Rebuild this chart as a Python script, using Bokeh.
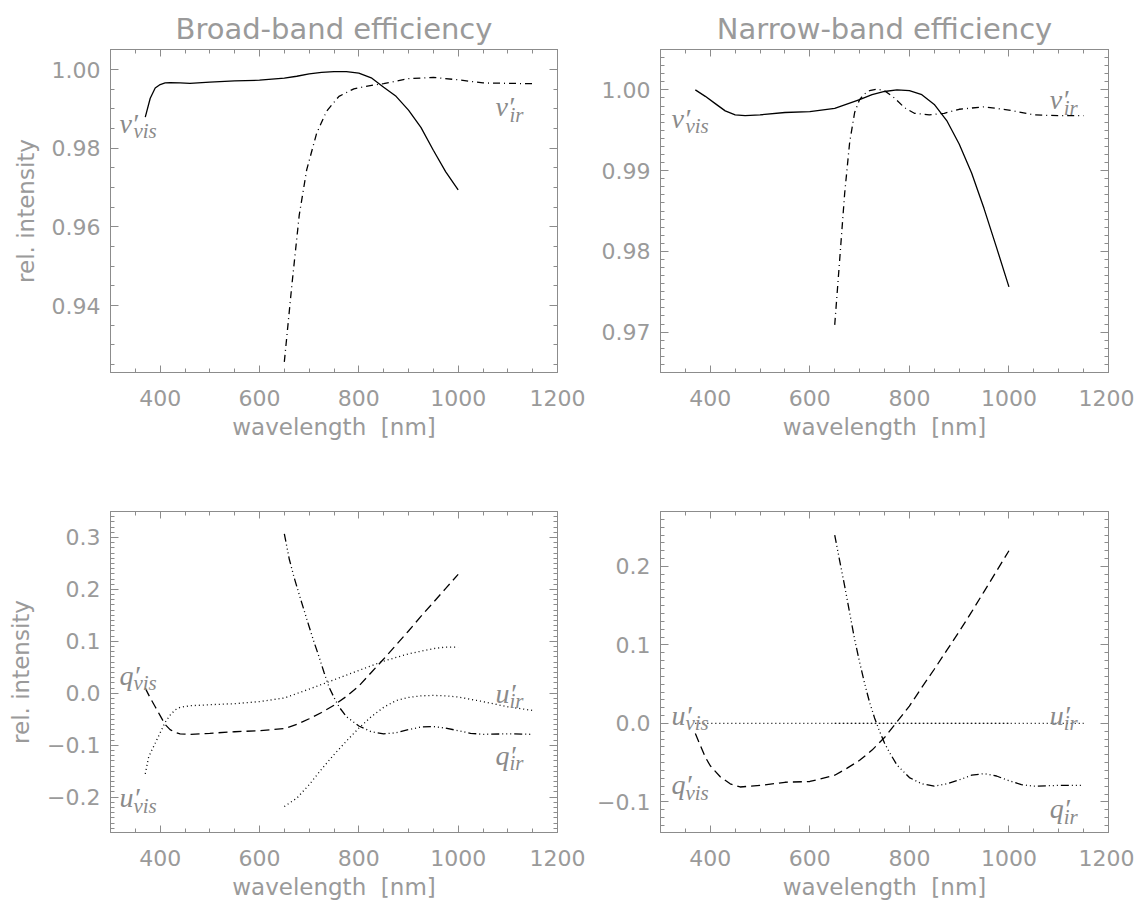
from bokeh.plotting import figure
from bokeh.layouts import column, row
from bokeh.models import Range1d, LinearAxis, SingleIntervalTicker, CustomJSTickFormatter, Label
from bokeh.embed import file_html
from bokeh.resources import INLINE

# ---------------- data ----------------
# Broad-band, top panel
bb_vvis_wl = [370, 380, 390, 400, 410, 420, 440, 460, 500, 550, 600, 650, 675, 700, 725, 750, 775, 800, 825,
              850, 875, 900, 925, 950, 975, 1000]
bb_vvis = [0.9879, 0.9927, 0.9953, 0.9962, 0.9966, 0.9967, 0.9966, 0.9965, 0.9968, 0.9971, 0.9973, 0.9978,
           0.9983, 0.9989, 0.9993, 0.9995, 0.9995, 0.9991, 0.9979, 0.9955, 0.9932, 0.9897, 0.9853, 0.9795,
           0.9740, 0.9694]
bb_vir_wl = [650, 665, 680, 695, 715, 735, 760, 790, 830, 850, 900, 950, 1000, 1050, 1100, 1150]
bb_vir = [0.9257, 0.9450, 0.9630, 0.9745, 0.9838, 0.9894, 0.9932, 0.9951, 0.9961, 0.9964, 0.9977, 0.9980,
          0.9974, 0.9966, 0.9965, 0.9964]

# Narrow-band, top panel
nb_vvis_wl = [370, 390, 410, 430, 450, 470, 500, 550, 600, 650, 700, 725, 750, 775, 800, 825, 850, 875, 900,
              925, 950, 975, 1000]
nb_vvis = [1.0000, 0.9992, 0.9983, 0.9974, 0.9969, 0.9968, 0.9969, 0.9972, 0.9973, 0.9977, 0.9988, 0.9994,
           0.9998, 1.0000, 0.9999, 0.9994, 0.9982, 0.9962, 0.9933, 0.9897, 0.9853, 0.9805, 0.9756]
nb_vir_wl = [650, 660, 670, 680, 690, 700, 710, 720, 735, 750, 770, 790, 810, 840, 870, 900, 950, 1000, 1050,
             1100, 1150]
nb_vir = [0.9709, 0.9790, 0.9872, 0.9935, 0.9972, 0.9988, 0.9995, 0.9999, 1.0001, 0.9999, 0.9990, 0.9978,
          0.9971, 0.9969, 0.9971, 0.9976, 0.9979, 0.9975, 0.9969, 0.9968, 0.9968]

# Broad-band, bottom panel
bb_qvis_wl = [370, 380, 390, 400, 410, 420, 430, 440, 460, 500, 550, 600, 650, 675, 700, 725, 750, 775, 800,
              825, 850, 875, 900, 925, 950, 975, 1000]
bb_qvis = [0.010, -0.009, -0.026, -0.043, -0.060, -0.070, -0.075, -0.078, -0.079, -0.077, -0.074, -0.072,
           -0.068, -0.060, -0.049, -0.037, -0.023, -0.006, 0.014, 0.040, 0.066, 0.093, 0.120, 0.148, 0.175,
           0.202, 0.229]
bb_uvis_wl = [370, 377, 390, 400, 410, 420, 430, 440, 460, 500, 550, 600, 650, 700, 725, 750, 800, 850, 900,
              950, 975, 1000]
bb_uvis = [-0.155, -0.122, -0.096, -0.076, -0.056, -0.042, -0.032, -0.027, -0.024, -0.022, -0.020, -0.016,
           -0.009, 0.008, 0.017, 0.026, 0.044, 0.062, 0.076, 0.086, 0.089, 0.089]
bb_uir_wl = [650, 675, 700, 725, 750, 775, 800, 825, 850, 875, 900, 925, 950, 975, 1000, 1050, 1100, 1150]
bb_uir = [-0.218, -0.202, -0.176, -0.146, -0.118, -0.092, -0.067, -0.045, -0.027, -0.014, -0.008, -0.005,
          -0.004, -0.005, -0.007, -0.016, -0.026, -0.033]
bb_qir_wl = [650, 660, 670, 680, 690, 700, 710, 720, 730, 740, 750, 760, 775, 800, 825, 850, 875, 900, 925,
             950, 975, 1000, 1025, 1050, 1100, 1150]
bb_qir = [0.307, 0.258, 0.222, 0.190, 0.159, 0.128, 0.098, 0.070, 0.040, 0.012, -0.008, -0.026, -0.045,
          -0.063, -0.074, -0.078, -0.076, -0.070, -0.065, -0.064, -0.067, -0.072, -0.077, -0.079, -0.078,
          -0.079]

# Narrow-band, bottom panel
nb_qvis_wl = [370, 380, 390, 400, 420, 440, 460, 480, 500, 550, 600, 650, 675, 700, 725, 750, 775, 800, 825,
              850, 875, 900, 925, 950, 975, 1000]
nb_qvis = [-0.013, -0.028, -0.043, -0.054, -0.068, -0.077, -0.081, -0.080, -0.079, -0.075, -0.074, -0.066,
           -0.057, -0.047, -0.034, -0.018, 0.002, 0.022, 0.046, 0.069, 0.093, 0.117, 0.142, 0.168, 0.194,
           0.220]
nb_uvis_wl = [370, 500, 650, 800, 1000]
nb_uvis = [0.0, 0.0, 0.0, 0.0, 0.0]
nb_uir_wl = [650, 800, 1000, 1150]
nb_uir = [0.0, 0.0, 0.0, 0.0]
nb_qir_wl = [650, 660, 670, 680, 690, 700, 710, 720, 730, 740, 750, 760, 775, 800, 825, 850, 875, 900, 925,
             950, 975, 1000, 1025, 1050, 1100, 1150]
nb_qir = [0.240, 0.207, 0.175, 0.141, 0.107, 0.078, 0.051, 0.027, 0.007, -0.010, -0.025, -0.037, -0.053,
          -0.069, -0.077, -0.080, -0.077, -0.072, -0.066, -0.064, -0.067, -0.073, -0.078, -0.080, -0.079,
          -0.079]

titles = ["Broad-band efficiency", "Narrow-band efficiency"]
x_label = "wavelength \u00a0[nm]"
y_label = "rel. intensity"

# ---------------- styles ----------------
AX = "#8c8c8c"
TXT = "#9a9a9a"
SYM = "#8a8a8a"
FONT = "DejaVu Sans"
SERIF = "Liberation Serif"
LW = 1.3


def num_fmt(dec):
    return CustomJSTickFormatter(args=dict(d=dec), code="""
        const v = Math.abs(tick) < 1e-9 ? 0 : tick;
        const s = Math.abs(v).toFixed(d);
        return (v < 0 ? '\u2212' : '') + s;
    """)


def axis(loc, ticker, formatter, label=None, tin=8, mtin=4, labels=True):
    a = LinearAxis(ticker=ticker, formatter=formatter if labels else CustomJSTickFormatter(code="return ''"))
    a.axis_line_color = AX
    a.major_tick_line_color = AX
    a.minor_tick_line_color = AX
    a.major_tick_in = tin
    a.major_tick_out = 0
    a.minor_tick_in = mtin
    a.minor_tick_out = 0
    if labels:
        a.major_label_text_font = FONT
        a.major_label_text_font_size = "22px"
        a.major_label_text_color = TXT
        a.major_label_standoff = 10 if loc == "left" else 17
    else:
        a.major_label_text_font_size = "1px"
        a.major_label_standoff = 0
    if label:
        a.axis_label = label
        a.axis_label_text_font = FONT
        a.axis_label_text_font_size = "23px"
        a.axis_label_text_font_style = "normal"
        a.axis_label_text_color = TXT
        a.axis_label_standoff = 10 if loc == "left" else 5
    return a


def make_fig(width, height, bl, br, bt, bb, yr, yint, yminor, ydec, title=None, ylab=None):
    p = figure(width=width, height=height, output_backend="svg", toolbar_location=None,
               x_range=Range1d(300, 1200), y_range=Range1d(*yr),
               x_axis_type=None, y_axis_type=None,
               min_border_left=bl, min_border_right=br, min_border_top=bt, min_border_bottom=bb,
               background_fill_color="white", border_fill_color="white")
    p.outline_line_color = AX
    xt = SingleIntervalTicker(interval=200, num_minor_ticks=4)
    yt = SingleIntervalTicker(interval=yint, num_minor_ticks=yminor)
    xf = CustomJSTickFormatter(code="return tick.toFixed(0);")
    p.add_layout(axis("below", xt, xf, label=x_label, tin=7, mtin=4), "below")
    p.add_layout(axis("left", yt, num_fmt(ydec), label=ylab), "left")
    p.add_layout(axis("above", xt, xf, tin=7, mtin=4, labels=False), "above")
    p.add_layout(axis("right", yt, num_fmt(ydec), labels=False), "right")
    if title:
        p.title.text = title
        p.title.align = "center"
        p.title.text_font = FONT
        p.title.text_font_size = "29px"
        p.title.text_font_style = "normal"
        p.title.text_color = TXT
        p.title.standoff = 8
    return p


def sym(p, x, y, main, sub):
    p.add_layout(Label(x=x, y=y, text=main, text_font=SERIF, text_font_size="28px",
                       text_font_style="italic", text_color=SYM, text_baseline="alphabetic"))
    p.add_layout(Label(x=x, y=y, x_offset=14, y_offset=-8, text=sub, text_font=SERIF,
                       text_font_size="21px", text_font_style="italic", text_color=SYM,
                       text_baseline="alphabetic"))


# ---------------- panels ----------------
p1 = make_fig(588, 458, 110, 31, 49, 86, (0.923, 1.0051), 0.02, 4, 2, title=titles[0], ylab=y_label)
p1.line(bb_vvis_wl, bb_vvis, line_color="black", line_width=LW)
p1.line(bb_vir_wl, bb_vir, line_color="black", line_width=LW, line_dash="7 4 1 4")
sym(p1, 318, 0.9863, "v\u2032", "vis")
sym(p1, 1075, 0.9905, "v\u2032", "ir")

p2 = make_fig(546, 458, 72, 26, 49, 86, (0.9650, 1.0050), 0.01, 10, 2, title=titles[1])
p2.line(nb_vvis_wl, nb_vvis, line_color="black", line_width=LW)
p2.line(nb_vir_wl, nb_vir, line_color="black", line_width=LW, line_dash="7 4 1 4")
sym(p2, 322, 0.9965, "v\u2032", "vis")
sym(p2, 1082, 0.99876, "v\u2032", "ir")

p3 = make_fig(588, 444, 110, 31, 53, 68, (-0.268, 0.350), 0.1, 10, 1, ylab=y_label)
p3.line(bb_qvis_wl, bb_qvis, line_color="black", line_width=LW, line_dash="9 5")
p3.line(bb_uvis_wl, bb_uvis, line_color="black", line_width=LW, line_dash="1 3")
p3.line(bb_uir_wl, bb_uir, line_color="black", line_width=LW, line_dash="1 3")
p3.line(bb_qir_wl, bb_qir, line_color="black", line_width=LW, line_dash="8 3 1 3 1 3 1 3")
sym(p3, 318, 0.0345, "q\u2032", "vis")
sym(p3, 318, -0.201, "u\u2032", "vis")
sym(p3, 1075, 0.000, "u\u2032", "ir")
sym(p3, 1075, -0.119, "q\u2032", "ir")

p4 = make_fig(546, 444, 72, 26, 53, 68, (-0.139, 0.270), 0.1, 10, 1)
p4.line(nb_qvis_wl, nb_qvis, line_color="black", line_width=LW, line_dash="9 5")
p4.line(nb_uvis_wl, nb_uvis, line_color="black", line_width=LW, line_dash="1 3")
p4.line(nb_uir_wl, nb_uir, line_color="black", line_width=LW, line_dash="1 3")
p4.line(nb_qir_wl, nb_qir, line_color="black", line_width=LW, line_dash="8 3 1 3 1 3 1 3")
sym(p4, 322, 0.0105, "u\u2032", "vis")
sym(p4, 322, -0.078, "q\u2032", "vis")
sym(p4, 1082, 0.0105, "u\u2032", "ir")
sym(p4, 1082, -0.109, "q\u2032", "ir")

layout = column(row(p1, p2), row(p3, p4))

with open("out.html", "w", encoding="utf-8") as f:
    f.write(file_html(layout, INLINE))
